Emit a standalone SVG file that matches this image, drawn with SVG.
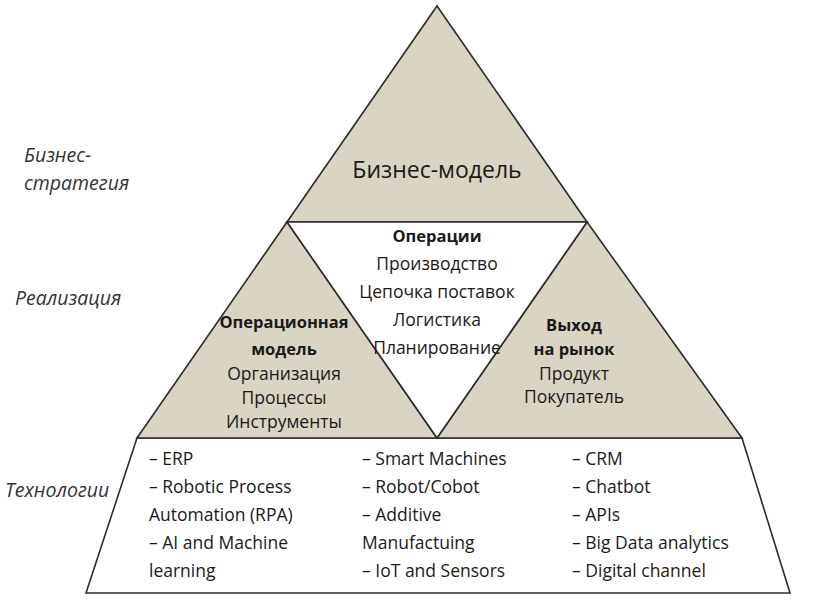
<svg xmlns="http://www.w3.org/2000/svg" width="818" height="602" viewBox="0 0 818 602">
<style>
.shape{fill:#d9d4c3;stroke:#2b2b2b;stroke-width:1.6;stroke-linejoin:miter}
.white{fill:#ffffff;stroke:#2b2b2b;stroke-width:1.6}
text{font-family:"Open Sans","Noto Sans",sans-serif;fill:#1a1a1a}
.c{text-anchor:middle;font-size:17.5px}
.b{font-weight:bold;font-size:16.5px}
.side{font-style:italic;font-size:19.5px;fill:#333}
.t{font-size:17.5px}
.big{font-size:23px;text-anchor:middle}
</style>
<rect width="818" height="602" fill="#ffffff"/>
<g id="tech">
<polygon class="white" points="137,438 742,438 790,593 86,593"/>
<text class="t" x="149" y="465">– ERP</text>
<text class="t" x="149" y="493">– Robotic Process</text>
<text class="t" x="149" y="521">Automation (RPA)</text>
<text class="t" x="149" y="549">– AI and Machine</text>
<text class="t" x="149" y="577">learning</text>
<text class="t" x="362" y="465">– Smart Machines</text>
<text class="t" x="362" y="493">– Robot/Cobot</text>
<text class="t" x="362" y="521">– Additive</text>
<text class="t" x="362" y="549">Manufactuing</text>
<text class="t" x="362" y="577">– IoT and Sensors</text>
<text class="t" x="572" y="465">– CRM</text>
<text class="t" x="572" y="493">– Chatbot</text>
<text class="t" x="572" y="521">– APIs</text>
<text class="t" x="572" y="549">– Big Data analytics</text>
<text class="t" x="572" y="577">– Digital channel</text>
</g>
<g id="business-model">
<polygon class="shape" points="437,6 587,222 287,222"/>
<text class="big" x="437" y="178">Бизнес-модель</text>
</g>
<g id="operating-model">
<polygon class="shape" points="287,222 437,438 137,438"/>
<text class="c b" x="284" y="328">Операционная</text>
<text class="c b" x="284" y="355">модель</text>
<text class="c" x="284" y="380">Организация</text>
<text class="c" x="284" y="404">Процессы</text>
<text class="c" x="284" y="428">Инструменты</text>
</g>
<g id="go-to-market">
<polygon class="shape" points="587,222 742,438 437,438"/>
<text class="c b" x="574" y="331">Выход</text>
<text class="c b" x="574" y="355">на рынок</text>
<text class="c" x="574" y="380">Продукт</text>
<text class="c" x="574" y="403">Покупатель</text>
</g>
<g id="operations">
<polygon class="white" points="287,222 587,222 437,438"/>
<text class="c b" x="437" y="242">Операции</text>
<text class="c" x="437" y="270">Производство</text>
<text class="c" x="437" y="298">Цепочка поставок</text>
<text class="c" x="437" y="326">Логистика</text>
<text class="c" x="437" y="354">Планирование</text>
</g>
<g id="levels">
<text class="side" x="24" y="162">Бизнес-</text>
<text class="side" x="24" y="190">стратегия</text>
<text class="side" x="15" y="305">Реализация</text>
<text class="side" x="5" y="497">Технологии</text>
</g>
</svg>
